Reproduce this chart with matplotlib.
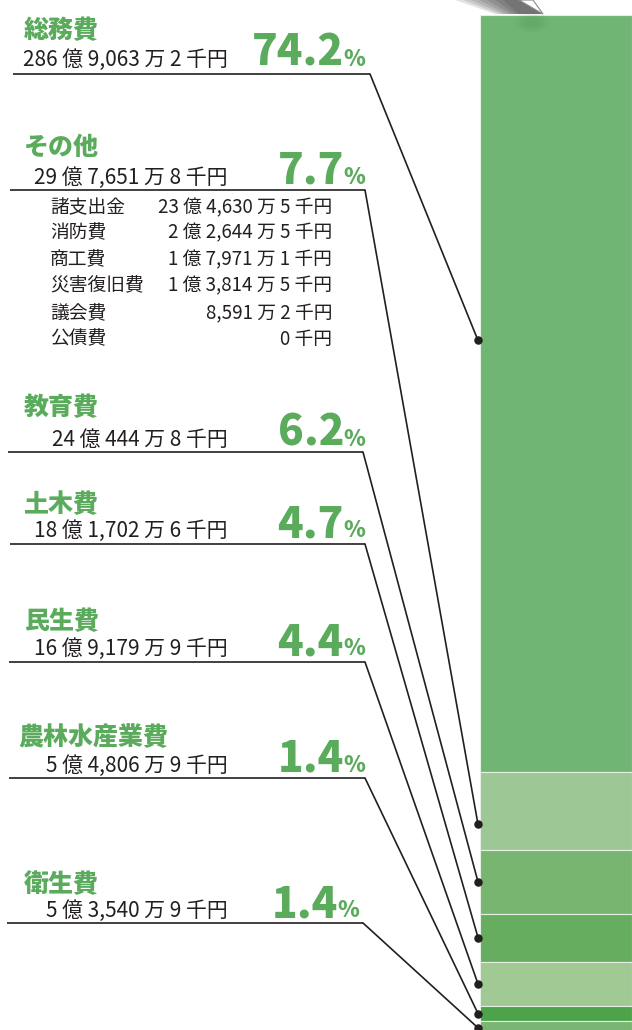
import numpy as np
import matplotlib.pyplot as plt
from matplotlib.patches import ConnectionPatch, Polygon, Ellipse

plt.rcParams['font.family'] = ['Noto Sans CJK JP', 'DejaVu Sans']

categories = ['総務費', 'その他', '教育費', '土木費', '民生費', '農林水産業費', '衛生費']
amounts = ['286 億 9,063 万 2 千円', '29 億 7,651 万 8 千円', '24 億 444 万 8 千円',
           '18 億 1,702 万 6 千円', '16 億 9,179 万 9 千円', '5 億 4,806 万 9 千円',
           '5 億 3,540 万 9 千円']
shares = [74.2, 7.7, 6.2, 4.7, 4.4, 1.4, 1.4]
bar_colors = ['#70b574', '#9dc896', '#78b571', '#66ad5f', '#a0c994', '#4ca34a', '#7ab574']

other_items = ['諸支出金', '消防費', '商工費', '災害復旧費', '議会費', '公債費']
other_amounts = ['23 億 4,630 万 5 千円', '2 億 2,644 万 5 千円', '1 億 7,971 万 1 千円',
                 '1 億 3,814 万 5 千円', '8,591 万 2 千円', '0 千円']

# layout (pixels from the top of the image)
title_x = [24, 24, 24, 24, 24, 18, 24]
title_y = [30, 147, 407, 504, 621, 737, 884]
base_y = [66, 184, 446, 537, 655, 772, 917]
line_y = [74, 190, 452, 544, 662, 778, 923]
line_x0 = [13, 10, 8, 10, 9, 9, 7]
line_x1 = [370, 365, 363, 365, 365, 365, 363]
pct_x = [343, 343, 343, 343, 343, 343, 337]
dot_frac = [0.43, 0.67, 0.5, 0.5, 0.5, 0.5, 0.5]
sub_y = [208, 233, 260, 286, 314, 339]

green = '#5aab5c'
ink = '#231f20'
W, H = 632, 1030
px_per_pct = 10.2
bar_top = 15

fig = plt.figure(figsize=(W / 100, H / 100), dpi=100)

# stacked bar
bax = fig.add_axes([480 / W, 0, (W - 480) / W, 1])
bax.set_xlim(0, 1)
bax.set_ylim((H - bar_top) / px_per_pct, -bar_top / px_per_pct)
bax.axis('off')
bottoms = np.concatenate([[0], np.cumsum(shares)[:-1]])
bax.bar(0.5, shares, width=1, bottom=bottoms, color=bar_colors,
        edgecolor='#e6efe4', linewidth=0.8)
dot_y = bottoms + np.array(shares) * np.array(dot_frac)
dot_x = -0.013
bax.scatter(np.full(len(shares), dot_x), dot_y, s=26, color=ink, clip_on=False, zorder=5)

# labels, leader lines
lay = fig.add_axes([0, 0, 1, 1])
lay.set_xlim(0, W)
lay.set_ylim(H, 0)
lay.axis('off')

for i, cat in enumerate(categories):
    lay.text(title_x[i], title_y[i], cat, fontsize=18, fontweight='heavy',
             color=green, ha='left', va='center')
    lay.text(228, base_y[i], amounts[i], fontsize=15, color=ink,
             ha='right', va='baseline')
    lay.text(pct_x[i] + 1, base_y[i], f'{shares[i]:.1f}', fontsize=30.5,
             fontweight='heavy', color=green, ha='right', va='baseline')
    lay.text(pct_x[i], base_y[i], '%', fontsize=16, fontweight='heavy',
             color=green, ha='left', va='baseline')
    lay.plot([line_x0[i], line_x1[i]], [line_y[i], line_y[i]], color=ink, lw=1.2,
             solid_capstyle='butt')
    con = ConnectionPatch(xyA=(line_x1[i], line_y[i]), coordsA=lay.transData,
                          xyB=(dot_x, dot_y[i]), coordsB=bax.transData,
                          color=ink, lw=1.2)
    fig.add_artist(con)

for name, amt, y in zip(other_items, other_amounts, sub_y):
    lay.text(50, y, name, fontsize=13.5, color=ink, ha='left', va='center')
    lay.text(332, y, amt, fontsize=13.5, color=ink, ha='right', va='center')

# pointer shadow at the top (cut off from a chart above)
for k in range(7):
    lay.add_patch(Polygon([(455 + k * 8, 0), (521, 0), (542, 14), (495 + k * 4, 14)],
                          closed=True, color='#1a1a1a', alpha=0.12, lw=0))
for r in range(3):
    lay.add_patch(Ellipse((532, 22), 34 - r * 9, 20 - r * 5, color='#2d6b30',
                          alpha=0.05, lw=0))
lay.add_patch(Polygon([(519, 0), (533, 0), (543, 14)], closed=True,
                      facecolor='white', edgecolor='#8a8a8a', lw=0.8))

fig.savefig('out.png', dpi=100)
